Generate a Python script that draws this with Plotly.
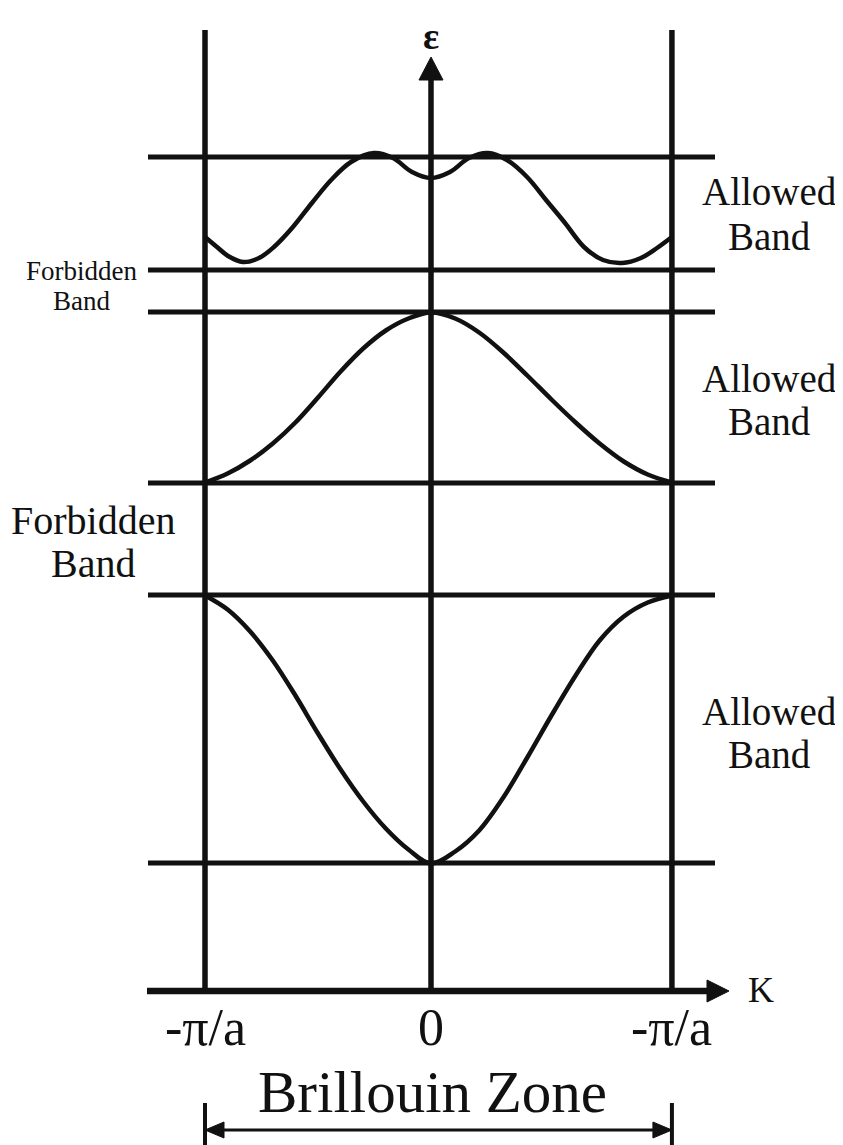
import plotly.graph_objects as go

# ---------------- data (k in units of pi/a, energy in arbitrary units) ----------------
K_TICK_VALS = [-1.0, 0.0, 1.066]          # left zone edge, centre, right zone edge (as drawn)
K_TICK_TEXT = ["-π/a", "0", "-π/a"]
BAND_EDGES = [1.28, 3.96, 5.08, 6.79, 7.21, 8.34]   # horizontal band-edge lines

BAND1_K = [-1.0, -0.9, -0.8, -0.7, -0.6, -0.5, -0.4, -0.3, -0.2, -0.1, 0.0,
           0.107, 0.213, 0.320, 0.426, 0.533, 0.640, 0.746, 0.853, 0.959, 1.066]
BAND1_E = [3.955, 3.815, 3.595, 3.305, 2.955, 2.575, 2.215, 1.895, 1.625, 1.415, 1.275,
           1.395, 1.605, 1.935, 2.335, 2.755, 3.155, 3.505, 3.745, 3.885, 3.955]

BAND2_K = [-1.0, -0.9, -0.8, -0.7, -0.6, -0.5, -0.4, -0.3, -0.2, -0.1, 0.0,
           0.107, 0.213, 0.320, 0.426, 0.533, 0.640, 0.746, 0.853, 0.959, 1.066]
BAND2_E = [5.085, 5.175, 5.305, 5.475, 5.685, 5.935, 6.195, 6.425, 6.605, 6.725, 6.785,
           6.725, 6.585, 6.385, 6.155, 5.915, 5.685, 5.475, 5.295, 5.165, 5.085]

BAND3_K = [-1.0, -0.947, -0.898, -0.832, -0.761, -0.695, -0.611, -0.527, -0.442, -0.354, -0.252,
           -0.168, -0.084, 0.0, 0.084, 0.168, 0.252, 0.336, 0.425, 0.509, 0.593, 0.677,
           0.761, 0.845, 0.929, 1.0, 1.066]
BAND3_E = [7.54, 7.44, 7.35, 7.29, 7.33, 7.44, 7.64, 7.88, 8.11, 8.29, 8.38,
           8.33, 8.19, 8.13, 8.19, 8.33, 8.38, 8.31, 8.14, 7.91, 7.68, 7.44,
           7.31, 7.28, 7.33, 7.43, 7.54]

BAND_LABELS = ["Allowed", "Band"]
GAP_LABELS = ["Forbidden", "Band"]
ZONE_LABEL = "Brillouin Zone"
AXIS_LABELS = ["ε", "K"]

# ---------------- layout constants ----------------
PAGE_OFFSET = 8            # default body margin of the written html page
W, H = 843 - PAGE_OFFSET, 1145 - PAGE_OFFSET
PX_PER_K = 226.0
PX_PER_E = 100.0
X0_PX, Y0_PX = 431.0, 991.0   # page-pixel position of (k=0, E=0)

def kx(px):
    return (px - X0_PX) / PX_PER_K

def ey(py):
    return (Y0_PX - py) / PX_PER_E

BLACK = "#111111"
SERIF = "Liberation Serif, Times New Roman, serif"
LW = 5

fig = go.Figure()

def seg(x, y, width=LW):
    fig.add_trace(go.Scatter(x=x, y=y, mode="lines", line=dict(color=BLACK, width=width),
                             hoverinfo="skip", showlegend=False))

def tri(x, y):
    fig.add_trace(go.Scatter(x=x + [x[0]], y=y + [y[0]], mode="lines", fill="toself",
                             fillcolor=BLACK, line=dict(color=BLACK, width=1),
                             hoverinfo="skip", showlegend=False))

# horizontal band-edge lines
LINE_K0, LINE_K1 = kx(148), kx(715)
for e in BAND_EDGES:
    seg([LINE_K0, LINE_K1], [e, e])

# zone boundary vertical lines
top_e = ey(30)
for kv in (K_TICK_VALS[0], K_TICK_VALS[2]):
    seg([kv, kv], [0, top_e], width=5.5)

# energy axis with arrow
arrow_base = ey(80)
arrow_tip = ey(57)
half_w = 12 / PX_PER_K
seg([K_TICK_VALS[1], K_TICK_VALS[1]], [0, arrow_base + 0.02], width=5.5)
tri([K_TICK_VALS[1] - half_w, K_TICK_VALS[1] + half_w, K_TICK_VALS[1]],
    [arrow_base, arrow_base, arrow_tip])

# K axis with arrow
k_base = kx(707)
k_tip = kx(729)
half_h = 11 / PX_PER_E
seg([kx(147), k_base + 0.01], [0, 0], width=6.5)
tri([k_base, k_base, k_tip], [half_h, -half_h, 0])

# bands
for bk, be in ((BAND1_K, BAND1_E), (BAND2_K, BAND2_E), (BAND3_K, BAND3_E)):
    fig.add_trace(go.Scatter(x=bk, y=be, mode="lines",
                             line=dict(color=BLACK, width=4.5, shape="spline", smoothing=1.0),
                             hoverinfo="skip", showlegend=False))

# Brillouin zone double arrow
bz_e = ey(1130)
bz_len = 19 / PX_PER_K
bz_hh = 8 / PX_PER_E
kl, kr = K_TICK_VALS[0], K_TICK_VALS[2]
seg([kl + bz_len * 0.5, kr - bz_len * 0.5], [bz_e, bz_e], width=3)
tri([kl, kl + bz_len, kl + bz_len], [bz_e, bz_e + bz_hh, bz_e - bz_hh])
tri([kr, kr - bz_len, kr - bz_len], [bz_e, bz_e + bz_hh, bz_e - bz_hh])
for kv in (kl, kr):
    seg([kv, kv], [ey(1103), ey(1150)], width=4)

# ---------------- text ----------------
def text(x, y, s, size, bold=False):
    fig.add_annotation(x=x, y=y, text=f"<b>{s}</b>" if bold else s, showarrow=False,
                       xanchor="center", yanchor="middle",
                       font=dict(family=SERIF, size=size, color=BLACK))

for kv, lab in zip(K_TICK_VALS, K_TICK_TEXT):
    text(kv, ey(1027), lab, 52)

text(kx(432), ey(1092), ZONE_LABEL, 59)
text(K_TICK_VALS[1], ey(36), AXIS_LABELS[0], 38, bold=True)
text(kx(761), ey(990), AXIS_LABELS[1], 36)

for y1, y2 in ((191, 236), (378, 421), (711, 754)):
    text(kx(769), ey(y1), BAND_LABELS[0], 39)
    text(kx(769), ey(y2), BAND_LABELS[1], 39)

text(kx(81), ey(271), GAP_LABELS[0], 27)
text(kx(81), ey(301), GAP_LABELS[1], 27)
text(kx(93), ey(520), GAP_LABELS[0], 40)
text(kx(93), ey(563), GAP_LABELS[1], 40)

fig.update_layout(
    width=W, height=H,
    margin=dict(l=0, r=0, t=0, b=0),
    paper_bgcolor="white", plot_bgcolor="white",
    xaxis=dict(range=[kx(PAGE_OFFSET), kx(PAGE_OFFSET + W)], visible=False, fixedrange=True),
    yaxis=dict(range=[ey(PAGE_OFFSET + H), ey(PAGE_OFFSET)], visible=False, fixedrange=True),
    showlegend=False,
)

fig.write_html("out.html")
